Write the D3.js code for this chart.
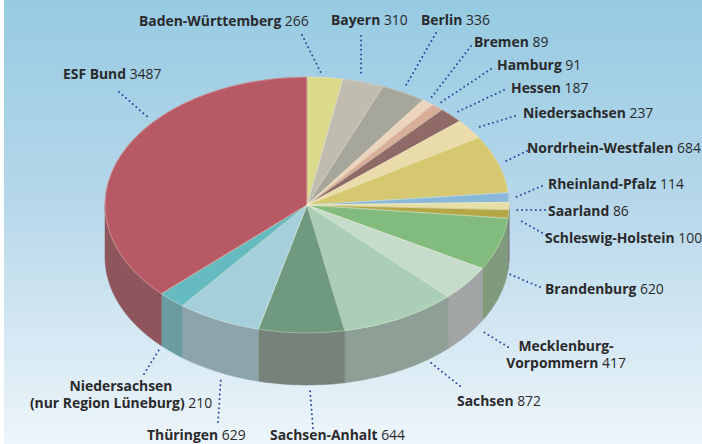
<!DOCTYPE html>
<html>
<head>
<meta charset="utf-8">
<script src="https://d3js.org/d3.v7.min.js"></script>
<style>
  html, body { margin: 0; padding: 0; background: #fff; }
  svg { display: block; }
  text { font-family: "Open Sans", sans-serif; font-size: 13.9px; fill: #2a2a2c; }
  text .name { font-weight: 700; }
</style>
</head>
<body>
<svg id="chart" width="702" height="444"></svg>
<script>
// clockwise from 12 o'clock
var categories = ['Baden-Württemberg', 'Bayern', 'Berlin', 'Bremen', 'Hamburg', 'Hessen', 'Niedersachsen',
  'Nordrhein-Westfalen', 'Rheinland-Pfalz', 'Saarland', 'Schleswig-Holstein', 'Brandenburg',
  'Mecklenburg-Vorpommern', 'Sachsen', 'Sachsen-Anhalt', 'Thüringen', 'Niedersachsen (nur Region Lüneburg)', 'ESF Bund'];
var values = [266, 310, 336, 89, 91, 187, 237, 684, 114, 86, 100, 620, 417, 872, 644, 629, 210, 3487];

var topColors = ['#dbd98a', '#c0bcb0', '#a6a69b', '#ecd3bd', '#d9ae98', '#8f6b66', '#eadcaa',
  '#d6c86f', '#8ab8d8', '#e6dfa8', '#b5a744', '#82bb7e', '#c6dcca', '#aacfb6', '#6f9a80', '#a5cfda', '#66bbc0', '#b75a66'];
var sideColors = ['#777', '#777', '#777', '#777', '#777', '#777', '#777', '#777', '#777', '#777', '#777', '#7f9a7c',
  '#a1a5a6', '#8e9f96', '#76827a', '#8ea4ad', '#6b9ca0', '#8f545c'];

// label placement, separate from the data
var labelLayout = [
  { lines: [['Baden-Württemberg', ' 266']], x: 139, y: 26, leader: [302, 35, 321, 73] },
  { lines: [['Bayern', ' 310']], x: 331, y: 25, leader: [361, 36, 361, 77] },
  { lines: [['Berlin', ' 336']], x: 421, y: 25, leader: [436, 33, 405, 87] },
  { lines: [['Bremen', ' 89']], x: 474, y: 47, leader: [471, 46, 431, 98] },
  { lines: [['Hamburg', ' 91']], x: 497, y: 70, leader: [491, 69, 440, 103] },
  { lines: [['Hessen', ' 187']], x: 511, y: 93, leader: [504, 90, 455, 113] },
  { lines: [['Niedersachsen', ' 237']], x: 523, y: 118, leader: [515, 116, 476, 128] },
  { lines: [['Nordrhein-Westfalen', ' 684']], x: 527, y: 153, leader: [527, 151, 504, 162] },
  { lines: [['Rheinland-Pfalz', ' 114']], x: 548, y: 189, leader: [542, 186, 516, 197] },
  { lines: [['Saarland', ' 86']], x: 548, y: 216, leader: [545, 210, 516, 210] },
  { lines: [['Schleswig-Holstein', ' 100']], x: 545, y: 243, leader: [546, 235, 519, 220] },
  { lines: [['Brandenburg', ' 620']], x: 545, y: 294, leader: [540, 287, 509, 274] },
  { lines: [['Mecklenburg-', ''], ['Vorpommern', ' 417']], x: 566, y: 351, anchor: 'middle', leader: [508, 347, 482, 331] },
  { lines: [['Sachsen', ' 872']], x: 457, y: 406, leader: [460, 386, 430, 362] },
  { lines: [['Sachsen-Anhalt', ' 644']], x: 270, y: 440, leader: [313, 428, 310, 390] },
  { lines: [['Thüringen', ' 629']], x: 147, y: 440, leader: [218, 422, 221, 377] },
  { lines: [['Niedersachsen', ''], ['(nur Region Lüneburg)', ' 210']], x: 121, y: 391, anchor: 'middle', leader: [144, 374, 159, 350] },
  { lines: [['ESF Bund', ' 3487']], x: 63, y: 79, leader: [119, 92, 150, 119] }
];

var width = 702, height = 444;
var cx = 307, cy = 205, rx = 202, ry = 128, depth = 52;

var svg = d3.select('#chart');
var defs = svg.append('defs');

var bg = defs.append('linearGradient').attr('id', 'bg').attr('x1', 0).attr('y1', 0).attr('x2', 0).attr('y2', 1);
bg.append('stop').attr('offset', 0).attr('stop-color', '#96cbe2');
bg.append('stop').attr('offset', .45).attr('stop-color', '#b6d7ea');
bg.append('stop').attr('offset', 1).attr('stop-color', '#edf5fa');

defs.append('filter').attr('id', 'soft')
  .append('feGaussianBlur').attr('stdDeviation', .6);

svg.append('rect').attr('width', width).attr('height', height).attr('fill', '#fff');
svg.append('rect').attr('x', 4).attr('width', width - 4).attr('height', height).attr('fill', 'url(#bg)');

var pie = d3.pie().sort(null).value(function(d){ return d; })(values);
var arc = d3.arc().innerRadius(0).outerRadius(1);
var topColor = d3.scaleOrdinal(categories, topColors);
var sideColor = d3.scaleOrdinal(categories, sideColors);

var g = svg.append('g').attr('filter', 'url(#soft)');

// rim of the disc, only the front half shows
function wallPath(d){
  var a0 = Math.max(d.startAngle, Math.PI / 2);
  var a1 = Math.min(d.endAngle, Math.PI * 1.5);
  var steps = d3.range(a0, a1, .02).concat([a1]);
  var area = d3.area()
    .x(function(a){ return cx + rx * Math.sin(a); })
    .y0(function(a){ return cy - ry * Math.cos(a); })
    .y1(function(a){ return cy - ry * Math.cos(a) + depth; });
  return area(steps);
}

g.selectAll('path.wall')
  .data(pie.filter(function(d){ return d.endAngle > Math.PI / 2 && d.startAngle < Math.PI * 1.5; }))
  .enter()
  .append('path')
  .attr('class', 'wall')
  .attr('d', wallPath)
  .attr('fill', function(d){ return sideColor(categories[d.index]); })
  .attr('stroke', function(d){ return sideColor(categories[d.index]); })
  .attr('stroke-width', .5);

g.selectAll('path.slice')
  .data(pie)
  .enter()
  .append('path')
  .attr('class', 'slice')
  .attr('transform', 'translate(' + cx + ',' + cy + ') scale(' + rx + ',' + ry + ')')
  .attr('d', arc)
  .attr('fill', function(d){ return topColor(categories[d.index]); })
  .attr('stroke', function(d){ return topColor(categories[d.index]); })
  .attr('stroke-width', .004);

// pale seams between the slices
g.selectAll('path.seam')
  .data(pie)
  .enter()
  .append('path')
  .attr('class', 'seam')
  .attr('transform', 'translate(' + cx + ',' + cy + ') scale(' + rx + ',' + ry + ')')
  .attr('d', arc)
  .attr('fill', 'none')
  .attr('stroke', '#f4f1d8')
  .attr('stroke-opacity', .3)
  .attr('stroke-width', 1)
  .attr('vector-effect', 'non-scaling-stroke');

// dotted leaders
svg.selectAll('line.leader')
  .data(labelLayout)
  .enter()
  .append('line')
  .attr('class', 'leader')
  .attr('x1', function(d){ return d.leader[0]; })
  .attr('y1', function(d){ return d.leader[1]; })
  .attr('x2', function(d){ return d.leader[2]; })
  .attr('y2', function(d){ return d.leader[3]; })
  .attr('stroke', '#2a479c')
  .attr('stroke-width', 2)
  .attr('stroke-linecap', 'round')
  .attr('stroke-dasharray', '0,4.6');

var labels = svg.selectAll('text.label')
  .data(labelLayout)
  .enter()
  .append('text')
  .attr('class', 'label')
  .attr('text-anchor', function(d){ return d.anchor || 'start'; });

labels.each(function(d){
  var t = d3.select(this);
  d.lines.forEach(function(line, i){
    var ts = t.append('tspan').attr('x', d.x).attr('y', d.y + i * 17);
    ts.append('tspan').attr('class', 'name').text(line[0]);
    if(line[1]) ts.append('tspan').text(line[1]);
  });
});
</script>
</body>
</html>
